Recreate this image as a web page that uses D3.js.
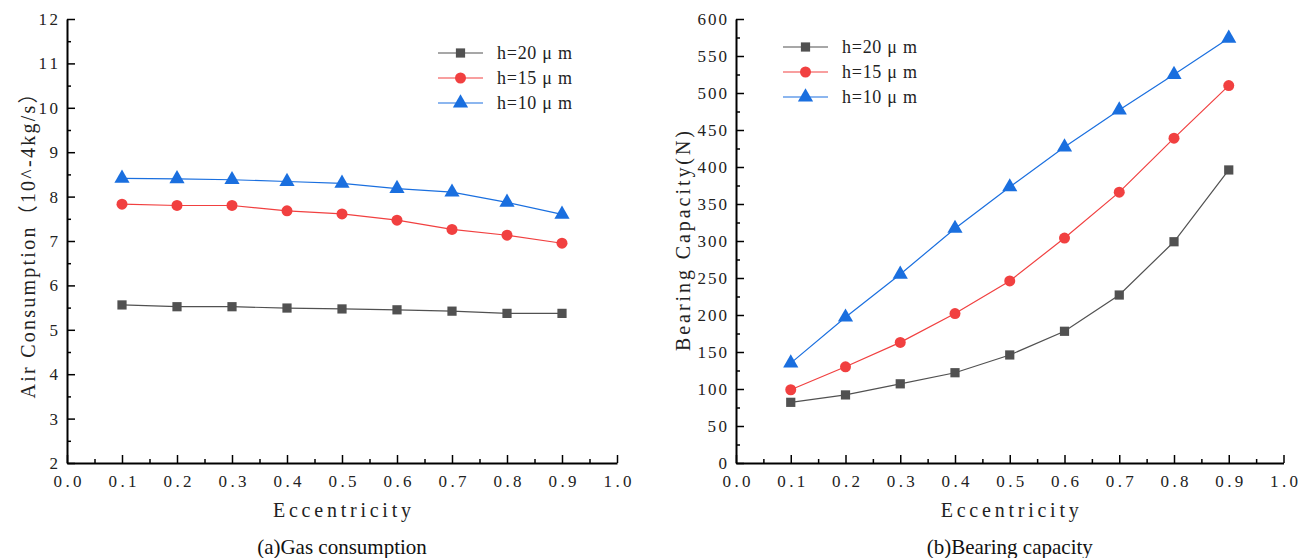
<!DOCTYPE html>
<html>
<head>
<meta charset="utf-8">
<script src="https://cdn.jsdelivr.net/npm/d3@7"></script>
<style>
  html, body { margin: 0; padding: 0; background: #fff; }
  svg { display: block; }
  .tick text { font-family: "Liberation Serif", serif; font-size: 17px; fill: #222; }
  .title { font-family: "Liberation Serif", "Noto Sans CJK SC", serif; font-size: 20px; fill: #222; }
  .caption { font-family: "Liberation Serif", serif; font-size: 21px; fill: #111; }
  .legend text { font-family: "Liberation Serif", serif; font-size: 18px; fill: #222; }
</style>
</head>
<body>
<svg id="chart" width="1302" height="558"></svg>
<script>
// Eccentricity values shared by both panels
const eccentricity = [0.1, 0.2, 0.3, 0.4, 0.5, 0.6, 0.7, 0.8, 0.9];

// Film thickness series labels
const seriesNames = ["h=20 μ m", "h=15 μ m", "h=10 μ m"];

// (a) Air consumption, 10^-4 kg/s
const gasH20 = [5.56, 5.52, 5.52, 5.49, 5.47, 5.45, 5.42, 5.37, 5.37];
const gasH15 = [7.83, 7.80, 7.80, 7.68, 7.61, 7.47, 7.26, 7.13, 6.95];
const gasH10 = [8.41, 8.40, 8.38, 8.34, 8.30, 8.18, 8.10, 7.87, 7.60];

// (b) Bearing capacity, N
const bearH20 = [82, 92, 107, 122, 146, 178, 227, 299, 396];
const bearH15 = [99, 130, 163, 202, 246, 304, 366, 439, 510];
const bearH10 = [135, 197, 255, 317, 373, 427, 477, 525, 574];

// Axis ticks
const xTicks = [0, 0.1, 0.2, 0.3, 0.4, 0.5, 0.6, 0.7, 0.8, 0.9, 1.0];
const gasTicks = [2, 3, 4, 5, 6, 7, 8, 9, 10, 11, 12];
const bearTicks = [0, 50, 100, 150, 200, 250, 300, 350, 400, 450, 500, 550, 600];

const colors = ["#515151", "#F14040", "#1A6FDF"];
const shapes = [d3.symbolSquare, d3.symbolCircle, d3.symbolTriangle];
const shapeSizes = [85, 95, 100];

const svg = d3.select("#chart");

// fixed-pitch look: every glyph cell gets the same advance
function pitch(sel, cell) {
  sel.each(function () {
    const t = d3.select(this);
    const n = t.text().length;
    t.attr("textLength", n * cell).attr("lengthAdjust", "spacing");
  });
}

function panel(opts) {
  const g = svg.append("g");
  const x = d3.scaleLinear().domain([0, 1]).range([opts.left, opts.right]);
  const y = d3.scaleLinear().domain(opts.yDomain).range([opts.bottom, opts.top]);

  // minor ticks
  const xMinor = d3.range(0.05, 1, 0.1);
  const yMinor = d3.range(opts.yDomain[0] + opts.yMinorStep, opts.yDomain[1], opts.yMinorStep * 2);

  g.append("g").attr("transform", `translate(0,${opts.bottom})`)
    .call(d3.axisBottom(x).tickValues(xMinor).tickFormat("").tickSizeInner(-4).tickSizeOuter(0))
    .call(s => s.select(".domain").remove())
    .selectAll("line").attr("stroke", "#000").attr("stroke-width", 1.5);
  g.append("g").attr("transform", `translate(${opts.left},0)`)
    .call(d3.axisLeft(y).tickValues(yMinor).tickFormat("").tickSizeInner(-4).tickSizeOuter(0))
    .call(s => s.select(".domain").remove())
    .selectAll("line").attr("stroke", "#000").attr("stroke-width", 1.5);

  // major axes
  const xa = g.append("g").attr("transform", `translate(0,${opts.bottom})`)
    .call(d3.axisBottom(x).tickValues(xTicks).tickFormat(d3.format(".1f"))
      .tickSizeInner(-8).tickSizeOuter(0).tickPadding(12));
  const ya = g.append("g").attr("transform", `translate(${opts.left},0)`)
    .call(d3.axisLeft(y).tickValues(opts.yTicks).tickFormat(d3.format("d"))
      .tickSizeInner(-8).tickSizeOuter(0).tickPadding(9));
  [xa, ya].forEach(a => {
    a.selectAll("line").attr("stroke", "#000").attr("stroke-width", 1.5);
    a.select(".domain").attr("stroke", "#000").attr("stroke-width", 2);
    a.selectAll("text").attr("fill", "#222");
  });
  pitch(xa.selectAll("text"), 9.4);
  pitch(ya.selectAll("text"), 9.8);

  // axis titles
  g.append("text").attr("class", "title")
    .attr("x", (opts.left + opts.right) / 2).attr("y", opts.bottom + 54)
    .attr("text-anchor", "middle").attr("textLength", 138).attr("lengthAdjust", "spacing")
    .text("Eccentricity");
  g.append("text").attr("class", "title")
    .attr("transform", `translate(${opts.yTitleX},${(opts.top + opts.bottom) / 2}) rotate(-90)`)
    .attr("text-anchor", "middle").attr("textLength", opts.yTitleLen).attr("lengthAdjust", "spacing")
    .text(opts.yTitle);
  g.append("text").attr("class", "caption")
    .attr("x", (opts.left + opts.right) / 2).attr("y", 554)
    .attr("text-anchor", "middle").text(opts.caption);

  // series
  const line = d3.line().x((d, i) => x(eccentricity[i])).y(d => y(d));
  opts.series.forEach((vals, k) => {
    g.append("path").datum(vals).attr("d", line)
      .attr("fill", "none").attr("stroke", colors[k]).attr("stroke-width", 1.2);
    g.selectAll(null).data(vals).enter().append("path")
      .attr("d", d3.symbol().type(shapes[k]).size(shapeSizes[k]))
      .attr("transform", (d, i) => `translate(${x(eccentricity[i])},${y(d)})`)
      .attr("fill", colors[k]);
  });

  // legend
  const lg = g.append("g").attr("class", "legend");
  seriesNames.forEach((name, k) => {
    const ly = opts.legendY + k * 25;
    lg.append("line").attr("x1", opts.legendX).attr("x2", opts.legendX + 45)
      .attr("y1", ly).attr("y2", ly).attr("stroke", colors[k]).attr("stroke-width", 1.2);
    lg.append("path").attr("d", d3.symbol().type(shapes[k]).size(shapeSizes[k]))
      .attr("transform", `translate(${opts.legendX + 22.5},${ly})`).attr("fill", colors[k]);
    lg.append("text").attr("x", opts.legendX + 59).attr("y", ly).attr("dy", "0.36em")
      .attr("textLength", 75).attr("lengthAdjust", "spacing").text(name);
  });
}

panel({
  left: 67, right: 617, top: 19, bottom: 463,
  yDomain: [2, 12], yTicks: gasTicks, yMinorStep: 0.5,
  yTitle: "Air Consumption（10^-4kg/s）", yTitleX: 35, yTitleLen: 315,
  caption: "(a)Gas consumption",
  series: [gasH20, gasH15, gasH10],
  legendX: 438, legendY: 53
});

panel({
  left: 736, right: 1283.5, top: 19, bottom: 463,
  yDomain: [0, 600], yTicks: bearTicks, yMinorStep: 25,
  yTitle: "Bearing Capacity(N)", yTitleX: 690, yTitleLen: 220,
  caption: "(b)Bearing capacity",
  series: [bearH20, bearH15, bearH10],
  legendX: 783, legendY: 47
});
</script>
</body>
</html>
